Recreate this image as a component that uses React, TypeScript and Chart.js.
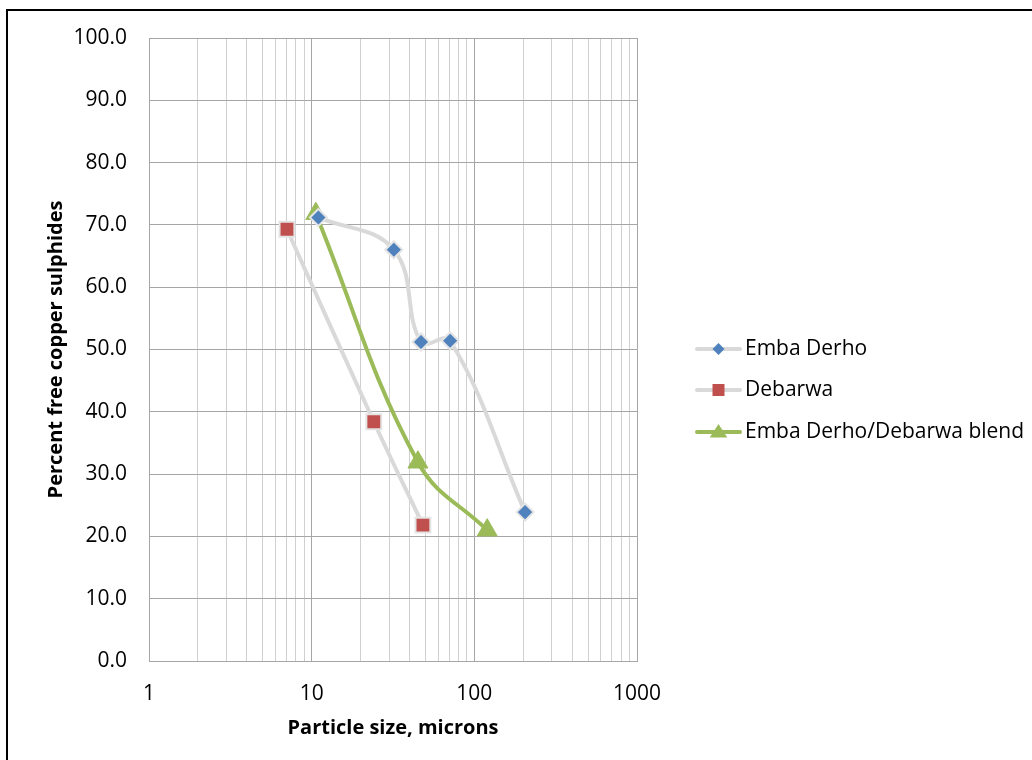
import React, { useEffect, useRef } from "react";
import { Chart, registerables } from "chart.js";

Chart.register(...registerables);

const embaSize = [11, 32, 47, 71, 205];
const embaPct = [71.2, 66.0, 51.2, 51.4, 23.9];
const debarwaSize = [7.05, 24.1, 48.3];
const debarwaPct = [69.3, 38.4, 21.8];
const blendSize = [10.6, 45, 120];
const blendPct = [71.8, 31.9, 21.0];
const seriesNames = ["Emba Derho", "Debarwa", "Emba Derho/Debarwa blend"];
const xTitle = "Particle size, microns";
const yTitle = "Percent free copper sulphides";

const FONT = "'Open Sans', sans-serif";

const legendPlugin = {
  id: "customLegend",
  afterDraw(chart: any) {
    const ctx = chart.ctx;
    ctx.save();
    // outer frame (top and left)
    ctx.strokeStyle = "#000";
    ctx.lineWidth = 2;
    ctx.beginPath();
    ctx.moveTo(7, 760);
    ctx.lineTo(7, 10);
    ctx.lineTo(1032, 10);
    ctx.stroke();

    const ys = [349, 390, 432];
    chart.data.datasets.forEach((ds: any, i: number) => {
      const y = ys[i];
      ctx.strokeStyle = ds.borderColor;
      ctx.lineWidth = ds.borderWidth;
      ctx.lineCap = "round";
      ctx.beginPath();
      ctx.moveTo(697, y);
      ctx.lineTo(740, y);
      ctx.stroke();
      drawMarker(ctx, ds.pointStyle, 718.5, y, i === 2 ? 8 : 6, ds.pointBackgroundColor);
      ctx.fillStyle = "#000";
      ctx.font = `21px ${FONT}`;
      ctx.textAlign = "left";
      ctx.textBaseline = "middle";
      ctx.fillText(ds.label, 745, y);
    });
    ctx.restore();
  },
};

function drawMarker(ctx: any, style: string, x: number, y: number, r: number, fill: string) {
  ctx.beginPath();
  if (style === "rectRot") {
    ctx.moveTo(x, y - r);
    ctx.lineTo(x + r, y);
    ctx.lineTo(x, y + r);
    ctx.lineTo(x - r, y);
    ctx.closePath();
  } else if (style === "rect") {
    ctx.rect(x - r, y - r, 2 * r, 2 * r);
  } else {
    ctx.moveTo(x, y - r);
    ctx.lineTo(x + r * 1.1, y + r * 0.7);
    ctx.lineTo(x - r * 1.1, y + r * 0.7);
    ctx.closePath();
  }
  ctx.fillStyle = fill;
  ctx.fill();
}

function toPoints(xs: number[], ys: number[]) {
  return xs.map((x, i) => ({ x, y: ys[i] }));
}

export default function App() {
  const ref = useRef<HTMLCanvasElement>(null);
  useEffect(() => {
    const chart = new Chart(ref.current!, {
      type: "line",
      data: {
        datasets: [
          {
            label: seriesNames[0],
            data: toPoints(embaSize, embaPct),
            borderColor: "#d9d9d9",
            borderWidth: 4,
            pointStyle: "rectRot",
            pointRadius: 8.5,
            pointBackgroundColor: "#4f81bd",
            pointBorderColor: "#e4e4e4",
            pointBorderWidth: 2,
            tension: 0.4,
          },
          {
            label: seriesNames[1],
            data: toPoints(debarwaSize, debarwaPct),
            borderColor: "#d9d9d9",
            borderWidth: 4,
            pointStyle: "rect",
            pointRadius: 10.5,
            pointBackgroundColor: "#c0504d",
            pointBorderColor: "#e4e4e4",
            pointBorderWidth: 2,
            tension: 0.4,
          },
          {
            label: seriesNames[2],
            data: toPoints(blendSize, blendPct),
            borderColor: "#9bbb59",
            borderWidth: 4,
            pointStyle: "triangle",
            pointRadius: 11.5,
            pointBackgroundColor: "#9bbb59",
            pointBorderColor: "#9bbb59",
            pointBorderWidth: 1,
            tension: 0.4,
          },
        ],
      },
      options: {
        responsive: false,
        animation: false,
        layout: { padding: { left: 0, right: 395, top: 38, bottom: 0 } },
        plugins: { legend: { display: false }, tooltip: { enabled: false } },
        scales: {
          x: {
            type: "logarithmic",
            min: 1,
            max: 1000,
            afterBuildTicks(scale: any) {
              const t: any[] = [];
              for (const d of [1, 10, 100]) for (let k = 1; k <= 9; k++) t.push({ value: k * d });
              t.push({ value: 1000 });
              scale.ticks = t;
            },
            afterFit(scale: any) {
              scale.height = 99;
            },
            ticks: {
              autoSkip: false,
              maxRotation: 0,
              padding: 20,
              color: "#000",
              font: { family: FONT, size: 21 },
              callback(v: any) {
                const l = Math.log10(Number(v));
                return Math.abs(l - Math.round(l)) < 1e-9 ? String(v) : "";
              },
            },
            grid: {
              drawTicks: false,
              lineWidth: 1,
              color(ctx: any) {
                const v = ctx.tick ? ctx.tick.value : 0;
                const l = Math.log10(v);
                return Math.abs(l - Math.round(l)) < 1e-9 ? "#a6a6a6" : "#d0d0d0";
              },
            },
            border: { color: "#a6a6a6" },
            title: {
              display: true,
              text: xTitle,
              color: "#000",
              font: { family: FONT, size: 20, weight: "bold" },
              padding: { top: 0, bottom: 20 },
            },
          },
          y: {
            min: 0,
            max: 100,
            afterFit(scale: any) {
              scale.width = 149;
            },
            ticks: {
              stepSize: 10,
              padding: 22,
              color: "#000",
              font: { family: FONT, size: 21 },
              callback(v: any) {
                return Number(v).toFixed(1);
              },
            },
            grid: { drawTicks: false, color: "#a6a6a6", lineWidth: 1 },
            border: { color: "#a6a6a6" },
            title: {
              display: true,
              text: yTitle,
              color: "#000",
              font: { family: FONT, size: 20, weight: "bold" },
              padding: { top: 44, bottom: 0 },
            },
          },
        },
      },
      plugins: [legendPlugin],
    } as any);
    return () => chart.destroy();
  }, []);
  return (
    <div style={{ position: "absolute", left: 0, top: 0, width: 1032, height: 760, background: "#fff" }}>
      <canvas ref={ref} width={1032} height={760} style={{ display: "block" }} />
    </div>
  );
}
